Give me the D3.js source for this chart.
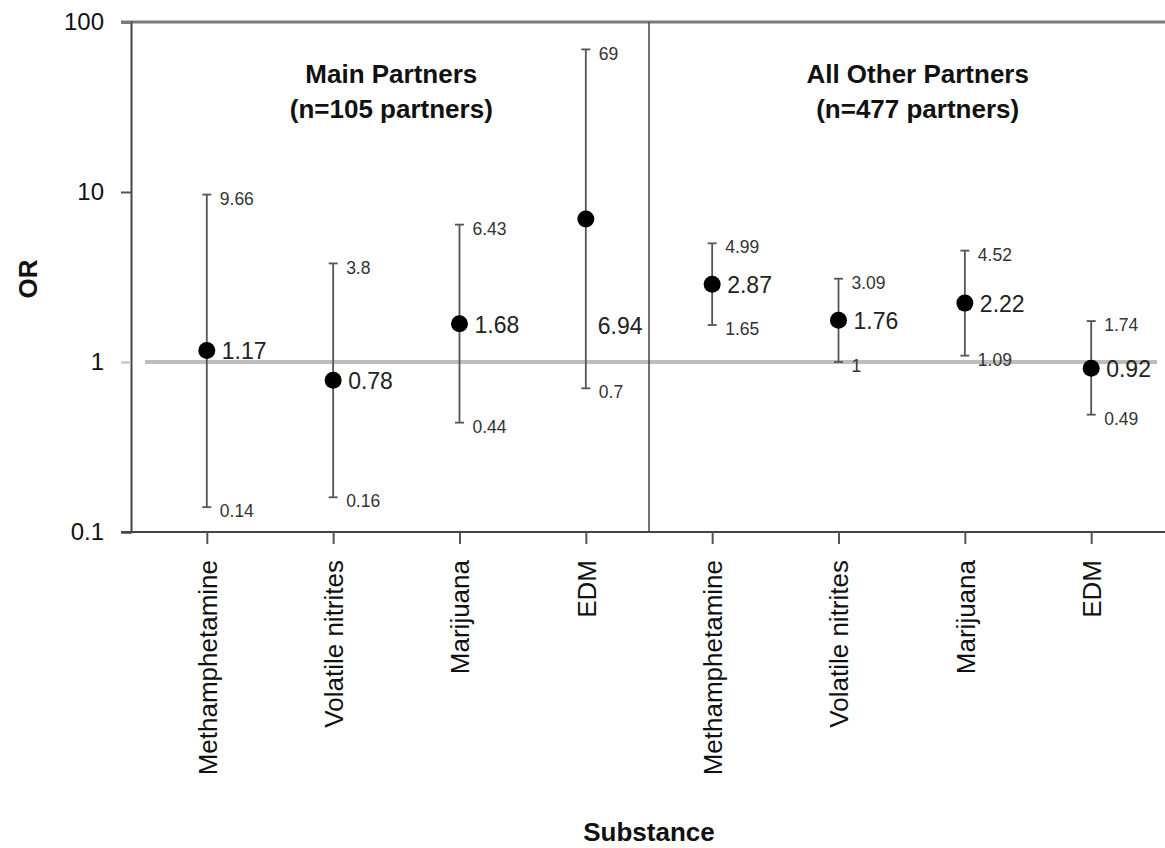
<!DOCTYPE html>
<html><head><meta charset="utf-8">
<script src="https://cdn.jsdelivr.net/npm/d3@7"></script>
<style>
html,body{margin:0;padding:0;background:#fff;}
text{font-family:"Liberation Sans",Arial,Helvetica,sans-serif;}
</style></head>
<body><svg id="c" width="1165" height="848"></svg>
<script>
const categories = ["Methamphetamine","Volatile nitrites","Marijuana","EDM","Methamphetamine","Volatile nitrites","Marijuana","EDM"];
const groups = ["Main Partners","All Other Partners"];
const groupNotes = ["(n=105 partners)","(n=477 partners)"];
const orValues = [1.17, 0.78, 1.68, 6.94, 2.87, 1.76, 2.22, 0.92];
const lowerCI = [0.14, 0.16, 0.44, 0.7, 1.65, 1, 1.09, 0.49];
const upperCI = [9.66, 3.8, 6.43, 69, 4.99, 3.09, 4.52, 1.74];
const yTicks = [0.1, 1, 10, 100];

const svg = d3.select("#c");
const L = 131, R = 1167, T = 22, B = 532;
const FF = "Liberation Sans, Arial, sans-serif";
const idx = d3.range(categories.length);
const x = d3.scalePoint().domain(idx).range([L, R]).padding(0.6);
const y = d3.scaleLog().domain([0.1, 100]).range([B, T]);

// reference line at 1
svg.append("line").attr("x1", 145).attr("x2", 1157).attr("y1", y(1)).attr("y2", y(1))
  .attr("stroke", "#bdbdbd").attr("stroke-width", 4);

// top border
svg.append("line").attr("x1", L - 10).attr("x2", 1165).attr("y1", T).attr("y2", T)
  .attr("stroke", "#7a7a7a").attr("stroke-width", 3);

// y axis
const yAxis = d3.axisLeft(y).tickValues(yTicks).tickFormat(d => String(d)).tickSize(10).tickPadding(17);
const ya = svg.append("g").attr("transform", `translate(${L},0)`).call(yAxis);
ya.select(".domain").attr("stroke", "#444").attr("stroke-width", 2);
ya.selectAll(".tick line").attr("stroke", "#555").attr("stroke-width", 2);
ya.selectAll(".tick line").filter(d => d === 1).attr("stroke", "#bdbdbd");
ya.selectAll(".tick line").filter(d => d === 100).attr("stroke", "#7a7a7a").attr("stroke-width", 3);
ya.selectAll(".tick text").attr("font-size", 24).attr("fill", "#111").attr("font-family", FF);

// x axis
const xAxis = d3.axisBottom(x).tickFormat(i => categories[i]).tickSize(12).tickPadding(0);
const xa = svg.append("g").attr("transform", `translate(0,${B})`).call(xAxis);
xa.select(".domain").attr("d", `M${L - 10},0H1165`).attr("stroke", "#444").attr("stroke-width", 2);
xa.selectAll(".tick line").attr("stroke", "#555").attr("stroke-width", 2);
xa.selectAll(".tick text")
  .attr("font-size", 26).attr("fill", "#111").attr("font-family", FF)
  .attr("transform", "rotate(-90)").attr("text-anchor", "end")
  .attr("x", -28).attr("y", 0).attr("dy", "0.36em");

// separator
const sepX = (x(3) + x(4)) / 2;
svg.append("line").attr("x1", sepX).attr("x2", sepX).attr("y1", T).attr("y2", B)
  .attr("stroke", "#444").attr("stroke-width", 1.5);

// group titles
groups.forEach((g, k) => {
  const cx = k === 0 ? (x(0) + x(3)) / 2 - 5 : (x(4) + x(7)) / 2 + 16;
  svg.append("text").attr("x", cx).attr("y", 83).attr("text-anchor", "middle")
    .attr("font-size", 26).attr("font-weight", "bold").attr("fill", "#111").text(g);
  svg.append("text").attr("x", cx).attr("y", 118).attr("text-anchor", "middle")
    .attr("font-size", 26).attr("font-weight", "bold").attr("fill", "#111").text(groupNotes[k]);
});

// error bars
const eb = svg.append("g");
idx.forEach(i => {
  const cx = x(i);
  eb.append("line").attr("x1", cx).attr("x2", cx).attr("y1", y(lowerCI[i])).attr("y2", y(upperCI[i]))
    .attr("stroke", "#555").attr("stroke-width", 1.8);
  [lowerCI[i], upperCI[i]].forEach(v => {
    eb.append("line").attr("x1", cx - 4.5).attr("x2", cx + 4.5).attr("y1", y(v)).attr("y2", y(v))
      .attr("stroke", "#555").attr("stroke-width", 1.8);
    eb.append("text").attr("x", cx + 13).attr("y", y(v) + 4).attr("dy", "0.35em")
      .attr("font-size", 17.5).attr("fill", "#333").text(String(v));
  });
});

// points + value labels
idx.forEach(i => {
  const cx = x(i);
  svg.append("circle").attr("cx", cx).attr("cy", y(orValues[i])).attr("r", 8.5).attr("fill", "#000");
  const ly = i === 3 ? y(1.65) : y(orValues[i]);
  const lx = i === 3 ? cx + 12 : cx + 15;
  svg.append("text").attr("x", lx).attr("y", ly + 1).attr("dy", "0.35em")
    .attr("font-size", 23).attr("fill", "#222").text(orValues[i].toFixed(2));
});

// axis titles
svg.append("text").attr("transform", `translate(37,279) rotate(-90)`).attr("text-anchor", "middle")
  .attr("font-size", 26).attr("font-weight", "bold").attr("fill", "#111").text("OR");
svg.append("text").attr("x", (L + R) / 2).attr("y", 841).attr("text-anchor", "middle")
  .attr("font-size", 26).attr("font-weight", "bold").attr("fill", "#111").text("Substance");
</script></body></html>
